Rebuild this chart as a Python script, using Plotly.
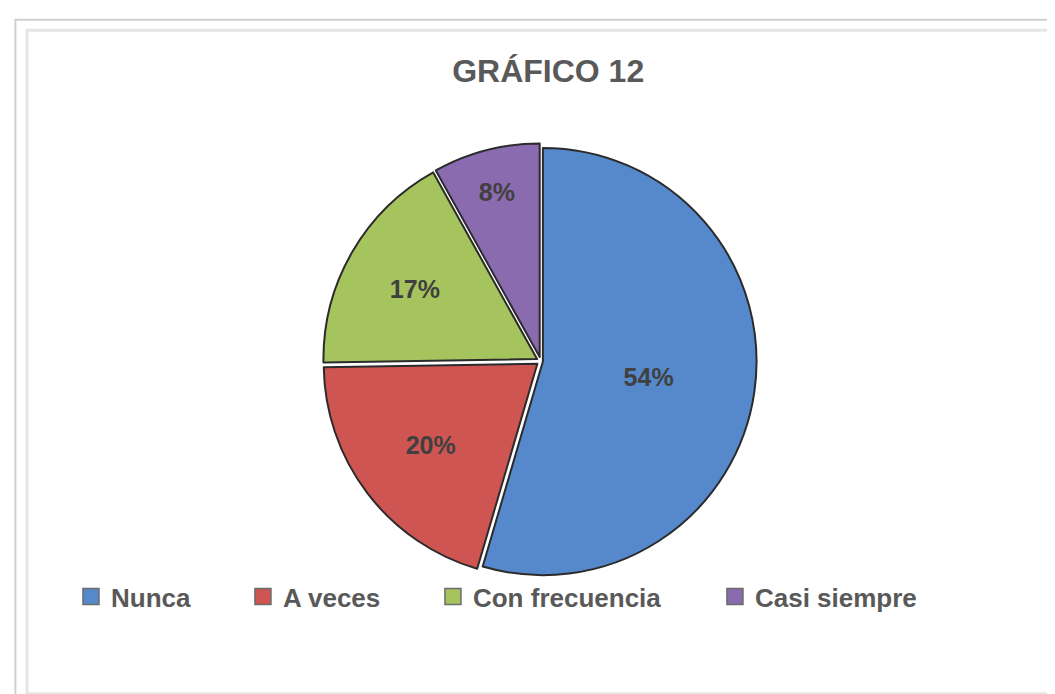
import plotly.graph_objects as go

categorias = ["Nunca", "A veces", "Con frecuencia", "Casi siempre"]
porcentajes = [54, 20, 17, 8]
colores = ["#5589CC", "#CF5553", "#A6C45E", "#8A6BB0"]

# posicion horizontal (paper) de cada entrada de la leyenda
leyenda_x = [0.0597, 0.2227, 0.4028, 0.6701]

fig = go.Figure()
fig.add_trace(go.Pie(
    labels=categorias,
    values=porcentajes,
    text=[f"{p}%" for p in porcentajes],
    textinfo="text",
    textposition="inside",
    insidetextorientation="horizontal",
    sort=False,
    direction="clockwise",
    rotation=0,
    pull=[0.01, 0.02, 0.02, 0.02],
    marker=dict(colors=colores, line=dict(color="#2b2b2b", width=2)),
    textfont=dict(family="Liberation Sans, Arial", size=25, color="#404040", weight="bold"),
    domain=dict(x=[0.298, 0.712], y=[0.177, 0.805]),
    hoverinfo="label+percent",
    showlegend=False,
))

# entradas de leyenda, una leyenda por categoria para imitar el espaciado
legend_ids = ["legend", "legend2", "legend3", "legend4"]
for cat, col, lid in zip(categorias, colores, legend_ids):
    fig.add_trace(go.Scatter(
        x=[None], y=[None], mode="markers", name=cat,
        marker=dict(symbol="square", size=16, color=col,
                    line=dict(color="#6b6b6b", width=1.5)),
        showlegend=True, legend=lid, hoverinfo="skip"))

leg_font = dict(family="Liberation Sans, Arial", size=26, color="#595959", weight="bold")
for lid, lx in zip(legend_ids, leyenda_x):
    fig.update_layout({lid: dict(orientation="h", x=lx, y=0.152, xanchor="left",
                                 yanchor="middle", bgcolor="rgba(0,0,0,0)",
                                 font=leg_font, itemclick=False)})

# marco del grafico
fig.add_shape(type="rect", xref="paper", yref="paper",
              x0=0.007, y0=0.006, x1=0.997, y1=0.983,
              line=dict(color="#cfcfcf", width=2))
fig.add_shape(type="rect", xref="paper", yref="paper",
              x0=0.018, y0=0.012, x1=0.99, y1=0.968,
              line=dict(color="#e6e6e6", width=3))

fig.update_xaxes(visible=False)
fig.update_yaxes(visible=False)
fig.update_layout(
    title=dict(text="<b>GRÁFICO 12</b>", x=0.512, xanchor="center", y=0.925,
               font=dict(family="Liberation Sans, Arial", size=32, color="#595959")),
    paper_bgcolor="white",
    plot_bgcolor="rgba(0,0,0,0)",
    margin=dict(l=0, r=0, t=0, b=0),
    width=1055,
    height=694)

fig.write_html("out.html")
